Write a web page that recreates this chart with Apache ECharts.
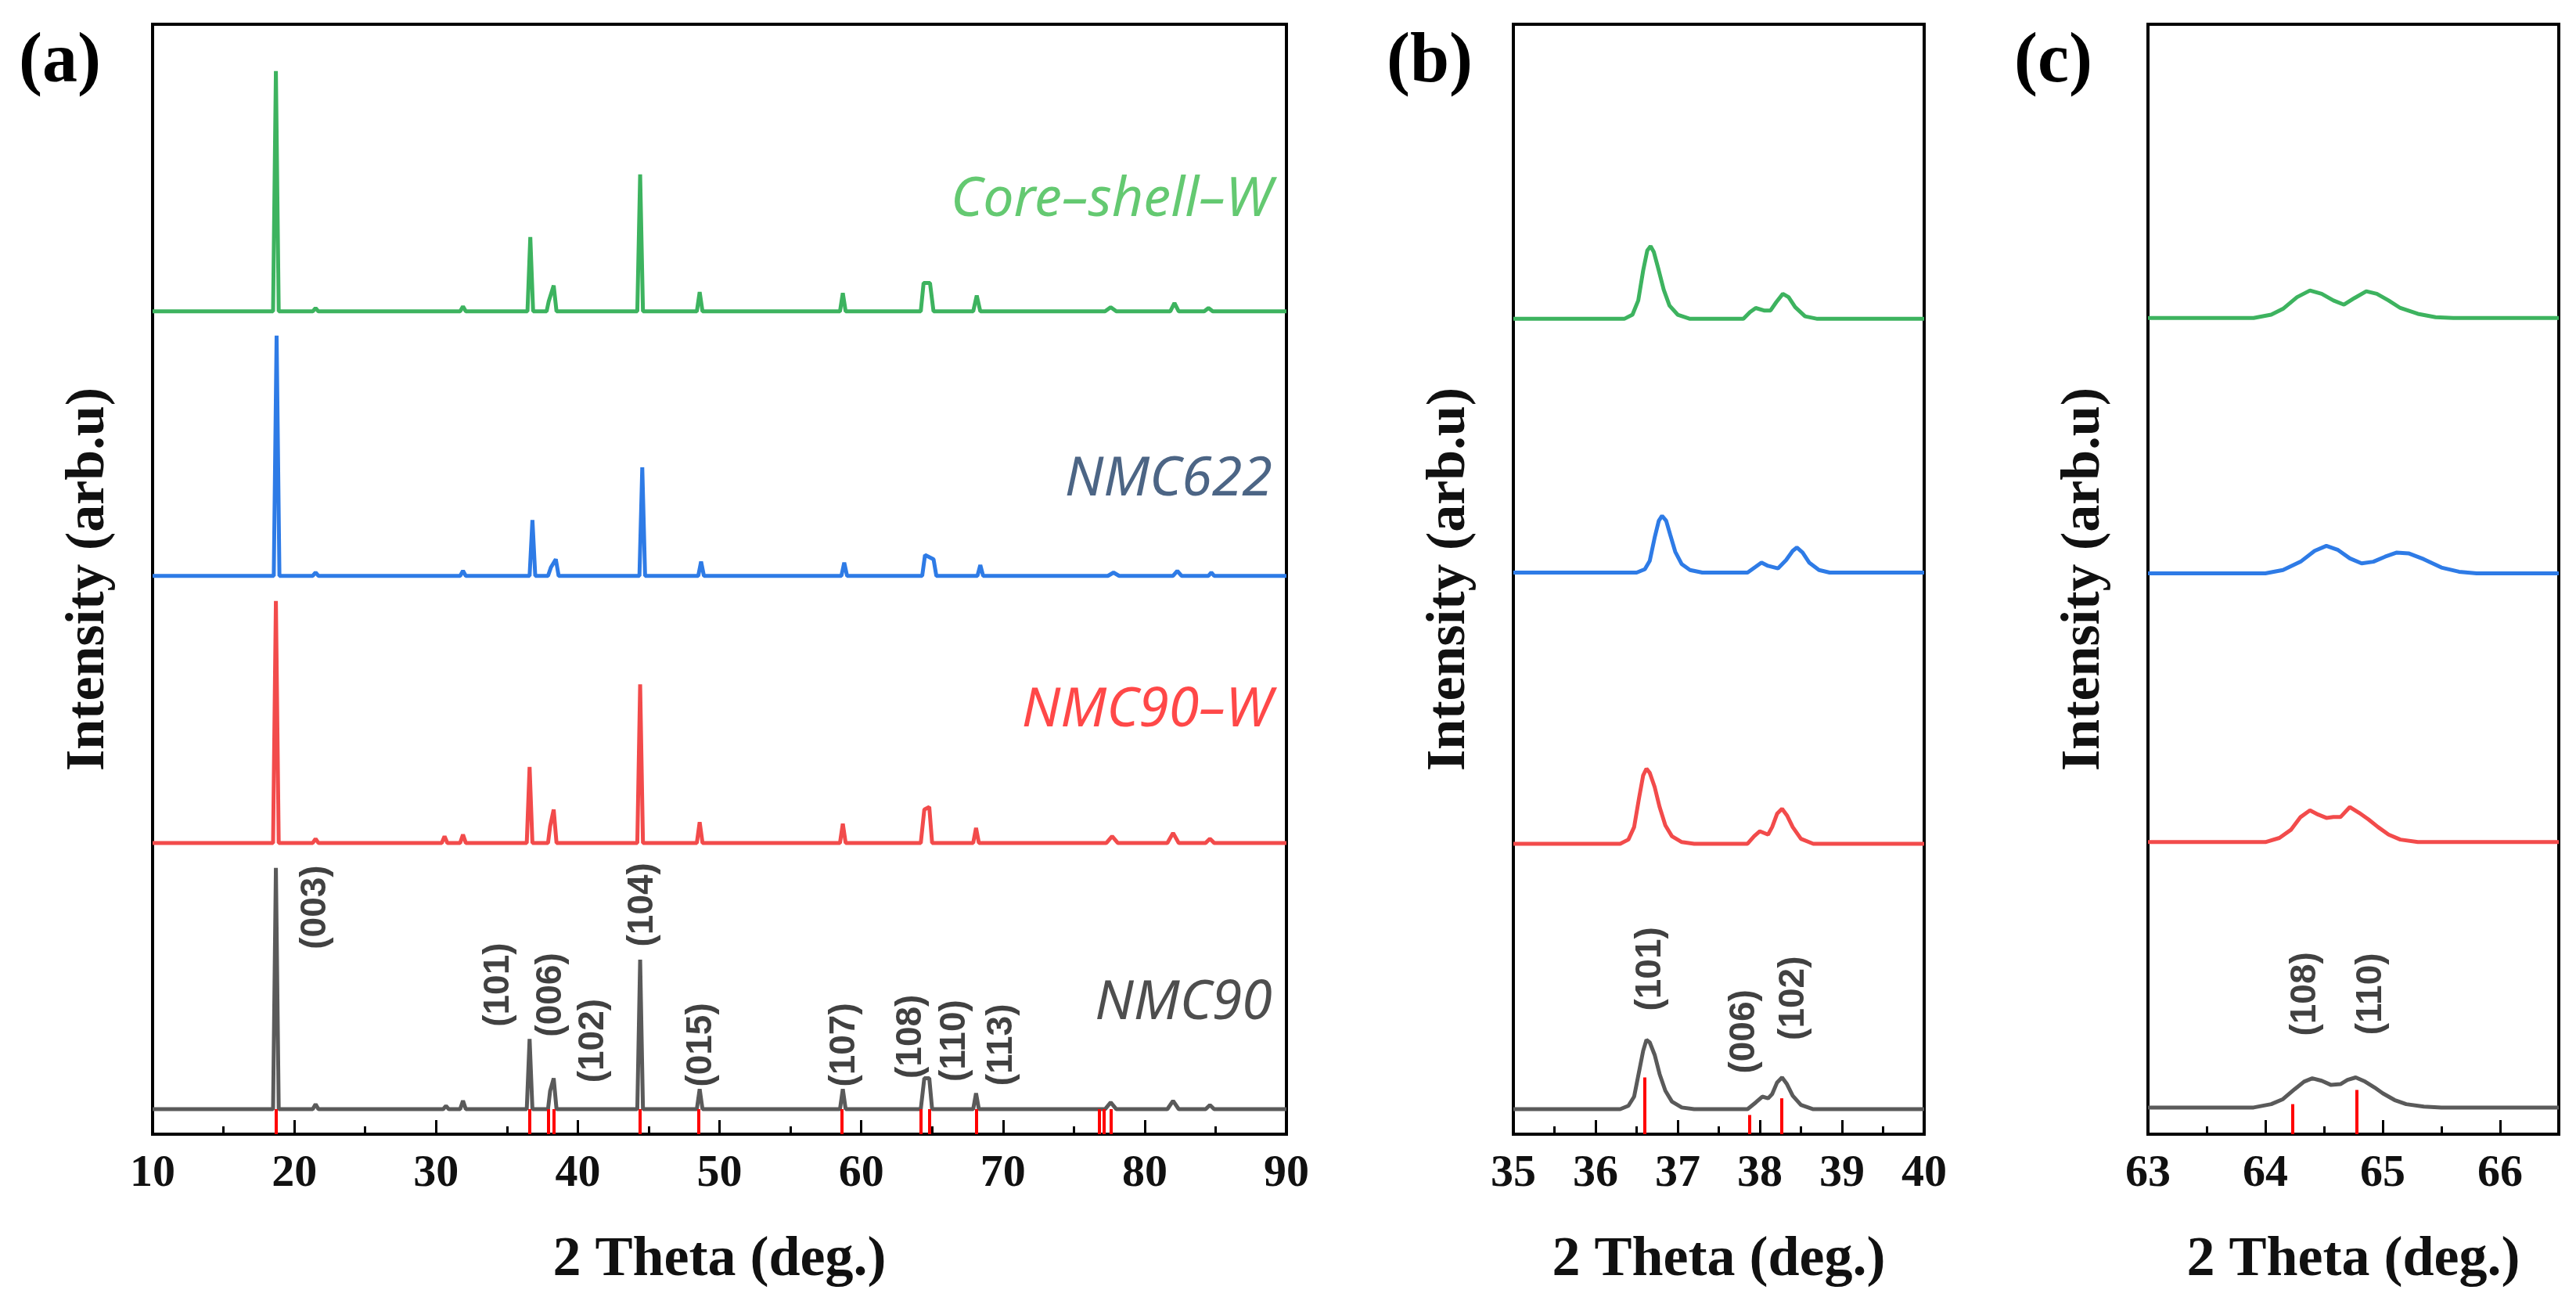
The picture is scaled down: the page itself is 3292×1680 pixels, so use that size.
<!DOCTYPE html>
<html><head><meta charset="utf-8">
<script src="https://cdn.jsdelivr.net/npm/echarts@6/dist/echarts.min.js"></script>
<style>html,body{margin:0;background:#fff}#c{width:3292px;height:1680px}</style>
</head><body><div id="c"></div>
<script>
// stacking offsets (arb. units) for the four patterns
const offsetsA = [30, 349, 669, 986];
const offsetsB = [30, 348, 673, 977];
const offsetsC = [32, 350, 672, 978];
const names = ['NMC90', 'NMC90–W', 'NMC622', 'Core–shell–W'];
const colors = ['#5a5a5a', '#f24b4b', '#2e7be6', '#3db35f'];
const nameColors = ['#222222', '#ff1a1a', '#1f3f66', '#3dbb4e'];
const nameY = [157, 507, 784, 1119];

// panel (a) full pattern, [2theta, intensity above baseline]
const nmc90A = [[10,0],[18.5,0],[18.7,289],[18.9,0],[21.3,0],[21.5,6],[21.7,0],[30.5,0],[30.7,4],[30.9,0],[31.7,0],[31.9,10],[32.1,0],[36.4,0],[36.6,84],[36.8,0],[37.9,0],[38.05,22],[38.3,37],[38.5,0],[44.2,0],[44.4,179],[44.6,0],[48.4,0],[48.6,24],[48.8,0],[58.5,0],[58.7,24],[58.9,0],[64.2,0],[64.45,37],[64.8,37],[65.0,0],[67.9,0],[68.1,19],[68.3,0],[77.2,0],[77.6,8],[78.0,0],[81.6,0],[82.0,10],[82.4,0],[84.3,0],[84.6,5],[84.9,0],[90,0]];
const nmc90wA = [[10,0],[18.5,0],[18.7,290],[18.9,0],[21.3,0],[21.5,5],[21.7,0],[30.4,0],[30.6,8],[30.8,0],[31.7,0],[31.9,10],[32.1,0],[36.4,0],[36.6,91],[36.8,0],[37.9,0],[38.05,20],[38.3,40],[38.5,0],[44.2,0],[44.4,190],[44.6,0],[48.4,0],[48.6,25],[48.8,0],[58.5,0],[58.7,23],[58.9,0],[64.2,0],[64.45,40],[64.8,43],[65.0,0],[67.9,0],[68.1,18],[68.3,0],[77.3,0],[77.7,8],[78.1,0],[81.6,0],[82.0,12],[82.4,0],[84.3,0],[84.6,5],[84.9,0],[90,0]];
const nmc622A = [[10,0],[18.55,0],[18.75,288],[18.95,0],[21.3,0],[21.5,4],[21.7,0],[31.7,0],[31.9,6],[32.1,0],[36.6,0],[36.8,67],[37.0,0],[37.9,0],[38.1,10],[38.45,20],[38.65,0],[44.35,0],[44.55,130],[44.75,0],[48.5,0],[48.7,17],[48.9,0],[58.6,0],[58.8,16],[59.0,0],[64.3,0],[64.5,25],[65.1,20],[65.3,0],[68.2,0],[68.4,13],[68.6,0],[77.4,0],[77.8,4],[78.2,0],[82.0,0],[82.3,6],[82.6,0],[84.5,0],[84.7,4],[84.9,0],[90,0]];
const coreA = [[10,0],[18.5,0],[18.7,288],[18.9,0],[21.3,0],[21.5,4],[21.7,0],[31.7,0],[31.9,6],[32.1,0],[36.45,0],[36.65,89],[36.85,0],[37.8,0],[37.95,12],[38.3,31],[38.5,0],[44.2,0],[44.4,164],[44.6,0],[48.4,0],[48.6,23],[48.8,0],[58.5,0],[58.7,22],[58.9,0],[64.2,0],[64.4,34],[64.85,34],[65.1,0],[67.9,0],[68.15,19],[68.4,0],[77.2,0],[77.6,5],[78.0,0],[81.8,0],[82.1,10],[82.4,0],[84.2,0],[84.5,4],[84.8,0],[90,0]];

// panel (b) 35-40 deg
const nmc90B = [[35,0],[36.3,0],[36.4,4],[36.47,15],[36.53,45],[36.58,70],[36.62,83],[36.66,80],[36.72,65],[36.78,42],[36.85,22],[36.93,9],[37.05,2],[37.2,0],[37.85,0],[37.95,8],[38.03,15],[38.1,13],[38.15,18],[38.21,32],[38.27,38],[38.33,30],[38.4,16],[38.5,5],[38.65,0],[40,0]];
const nmc90wB = [[35,0],[36.3,0],[36.4,5],[36.47,20],[36.53,55],[36.58,82],[36.62,90],[36.66,85],[36.72,68],[36.78,44],[36.85,22],[36.93,9],[37.05,2],[37.2,0],[37.85,0],[37.93,9],[38.0,15],[38.1,11],[38.15,20],[38.21,36],[38.27,42],[38.33,34],[38.4,20],[38.5,6],[38.65,0],[40,0]];
const nmc622B = [[35,0],[36.5,0],[36.6,4],[36.66,14],[36.72,42],[36.77,62],[36.81,68],[36.86,62],[36.91,45],[36.97,25],[37.05,10],[37.15,3],[37.3,0],[37.85,0],[37.95,7],[38.02,12],[38.1,8],[38.22,5],[38.32,15],[38.4,26],[38.45,30],[38.52,24],[38.6,12],[38.72,3],[38.85,0],[40,0]];
const coreB = [[35,0],[36.35,0],[36.45,5],[36.52,22],[36.58,58],[36.63,82],[36.67,87],[36.71,80],[36.77,58],[36.83,35],[36.9,16],[37.0,5],[37.15,0],[37.8,0],[37.88,8],[37.95,13],[38.05,10],[38.13,10],[38.2,20],[38.28,30],[38.35,26],[38.43,14],[38.55,3],[38.7,0],[40,0]];

// panel (c) 63-66.5 deg
const nmc90C = [[63,0],[63.9,0],[64.05,4],[64.15,10],[64.25,22],[64.33,31],[64.4,35],[64.48,32],[64.56,27],[64.64,28],[64.7,33],[64.77,36],[64.85,31],[64.93,24],[65.0,17],[65.1,9],[65.2,4],[65.35,1],[65.5,0],[66.5,0]];
const nmc90wC = [[63,0],[64.0,0],[64.12,5],[64.22,15],[64.3,30],[64.38,38],[64.45,33],[64.52,29],[64.58,30],[64.64,30],[64.72,42],[64.8,35],[64.88,27],[64.96,18],[65.05,9],[65.15,3],[65.3,0],[66.5,0]];
const nmc622C = [[63,0],[64.0,0],[64.15,4],[64.3,14],[64.42,27],[64.52,33],[64.62,28],[64.72,18],[64.82,12],[64.92,14],[65.02,20],[65.12,25],[65.22,24],[65.35,17],[65.5,7],[65.65,2],[65.8,0],[66.5,0]];
const coreC = [[63,0],[63.9,0],[64.05,4],[64.15,11],[64.27,25],[64.38,33],[64.48,29],[64.58,21],[64.67,16],[64.76,24],[64.86,32],[64.95,29],[65.05,21],[65.15,12],[65.3,5],[65.45,1],[65.6,0],[66.5,0]];

// red reference lines [2theta, height]
const refA = [[18.7,30],[36.6,30],[37.9,30],[38.3,30],[44.4,30],[48.5,30],[58.6,30],[64.2,30],[64.8,30],[68.1,30],[76.8,30],[77.1,30],[77.6,30]];
const refB = [[36.6,68],[37.87,23],[38.26,43]];
const refC = [[64.23,36],[64.78,53]];

// miller indices labels [text, 2theta, y]
const hklA = [['(003)',21.5,272],['(101)',34.4,179],['(006)',38.1,167],['(102)',41.1,112],['(104)',44.6,275],['(015)',48.7,107],['(107)',58.8,107],['(108)',63.5,117],['(110)',66.6,112],['(113)',69.9,107]];
const hklB = [['(101)',36.67,198],['(006)',37.81,123],['(102)',38.41,163]];
const hklC = [['(108)',64.34,168],['(110)',64.9,168]];

const setsA = [nmc90A, nmc90wA, nmc622A, coreA];
const setsB = [nmc90B, nmc90wB, nmc622B, coreB];
const setsC = [nmc90C, nmc90wC, nmc622C, coreC];

const serif = 'Liberation Serif';
const grids = [
  {left: 195, width: 1449, top: 31, height: 1418},
  {left: 1934, width: 525, top: 31, height: 1418},
  {left: 2745, width: 525, top: 31, height: 1418}
];
const xr = [[10, 90, 10], [35, 40, 1], [63, 66.5, 1]];

const option = {
  animation: false,
  grid: grids.map(g => Object.assign({show: true, borderColor: '#000', borderWidth: 4, containLabel: false}, g)),
  xAxis: xr.map((r, i) => ({
    gridIndex: i, type: 'value', min: r[0], max: r[1], interval: r[2],
    name: '2 Theta (deg.)', nameLocation: 'middle', nameGap: 125,
    nameTextStyle: {fontFamily: serif, fontWeight: 'bold', fontSize: 72, color: '#111'},
    axisLine: {lineStyle: {color: '#000', width: 4}},
    axisTick: {inside: true, length: 18, lineStyle: {width: 3, color: '#000'}},
    minorTick: {show: true, splitNumber: 2, length: 10, lineStyle: {width: 3, color: '#000'}},
    axisLabel: {fontFamily: serif, fontWeight: 'bold', fontSize: 58, color: '#111', margin: 22,
      formatter: v => (v === 66.5 ? '' : v)},
    splitLine: {show: false}
  })),
  yAxis: [0, 1, 2].map(i => ({
    gridIndex: i, type: 'value', min: 0, max: 1330,
    name: 'Intensity (arb.u)', nameLocation: 'middle', nameGap: 46,
    nameTextStyle: {fontFamily: serif, fontWeight: 'bold', fontSize: 70, color: '#111'},
    axisLine: {lineStyle: {color: '#000', width: 4}}, axisTick: {show: false},
    axisLabel: {show: false}, splitLine: {show: false}
  })),
  graphic: [
    {type: 'text', left: 24, top: 36, style: {text: '(a)', font: 'bold 90px "Liberation Serif"', fill: '#000'}},
    {type: 'text', left: 1772, top: 36, style: {text: '(b)', font: 'bold 90px "Liberation Serif"', fill: '#000'}},
    {type: 'text', left: 2574, top: 36, style: {text: '(c)', font: 'bold 90px "Liberation Serif"', fill: '#000'}}
  ],
  series: []
};

function addPanel(sets, offsets, gi) {
  sets.forEach((d, k) => {
    option.series.push({
      type: 'line', xAxisIndex: gi, yAxisIndex: gi, showSymbol: false, symbol: 'none',
      lineStyle: {color: colors[k], width: 5}, z: 3,
      data: d.map(p => [p[0], p[1] + offsets[k]])
    });
  });
}
function addRefs(refs, gi) {
  option.series.push({
    type: 'line', xAxisIndex: gi, yAxisIndex: gi, data: [], z: 4,
    markLine: {silent: true, symbol: 'none', label: {show: false},
      lineStyle: {color: '#ff0000', width: 4, type: 'solid'},
      data: refs.map(r => [{coord: [r[0], 0]}, {coord: [r[0], r[1]]}])}
  });
}
function addHkl(list, gi) {
  option.series.push({
    type: 'scatter', xAxisIndex: gi, yAxisIndex: gi, symbolSize: 0, z: 5,
    data: list.map(t => ({value: [t[1], t[2]], name: t[0]})),
    label: {show: true, formatter: p => p.name, rotate: 90, position: 'inside',
      fontFamily: 'Liberation Sans', fontWeight: 'bold', fontSize: 46, color: '#111'}
  });
}
addPanel(setsA, offsetsA, 0); addRefs(refA, 0); addHkl(hklA, 0);
addPanel(setsB, offsetsB, 1); addRefs(refB, 1); addHkl(hklB, 1);
addPanel(setsC, offsetsC, 2); addRefs(refC, 2); addHkl(hklC, 2);

option.series.push({
  type: 'scatter', xAxisIndex: 0, yAxisIndex: 0, symbolSize: 0, z: 6,
  data: names.map((n, k) => ({value: [89, nameY[k]], name: n, label: {color: nameColors[k]}})),
  label: {show: true, formatter: p => p.name, position: 'left', distance: 0,
    fontFamily: 'Noto Sans', fontStyle: 'italic', fontSize: 70}
});

echarts.init(document.getElementById('c')).setOption(option);
</script></body></html>
